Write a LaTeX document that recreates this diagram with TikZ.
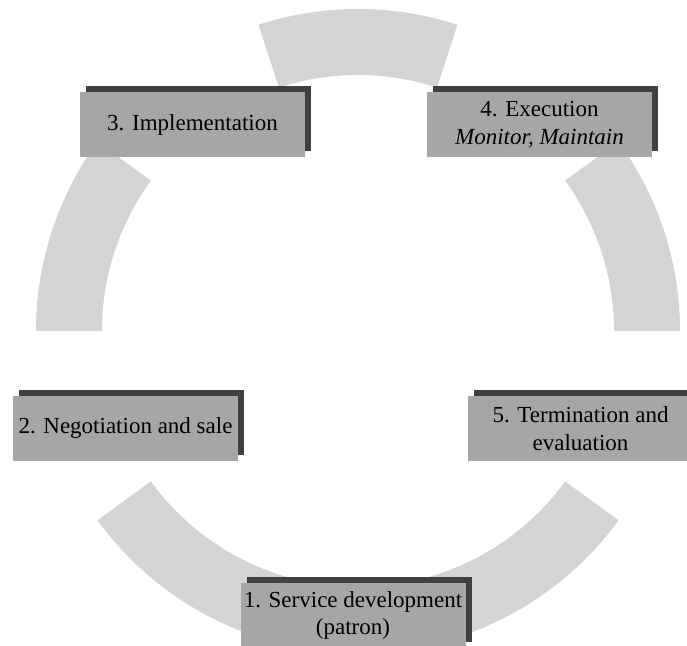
\documentclass[tikz,border=0pt]{standalone}
\usepackage{fontspec}
\setmainfont{Liberation Serif}
\usetikzlibrary{shadows,calc}
\definecolor{ringgray}{HTML}{D4D4D4}
\definecolor{boxgray}{HTML}{A6A6A6}
\definecolor{shadowgray}{HTML}{404040}

\begin{document}
\begin{tikzpicture}[x=1pt,y=1pt,
    ring/.style={fill=ringgray},
    stage/.style={fill=boxgray, minimum width=225pt, minimum height=65pt, inner sep=0pt,
        align=center, font=\fontsize{23}{27.5}\selectfont,
        drop shadow={shadow xshift=6pt, shadow yshift=6pt, fill=shadowgray, opacity=1}}]
    \clip (0,0) rectangle (687,645);
    \coordinate (c) at (358,314);

    % ring segments
    \foreach \a/\b in {0/36, 72/108, 144/180, 216/324}
        \fill[ring] ($(c)+(\a:322)$) arc[start angle=\a, end angle=\b, radius=322]
            -- ($(c)+(\b:256)$) arc[start angle=\b, end angle=\a, radius=256] -- cycle;

    % stages
    \node[stage] (s1) at (353,29.5) {1. Service development\\(patron)};
    \node[stage] (s2) at (125.5,216.5) {2. Negotiation and sale};
    \node[stage] (s3) at (192.5,520.5) {3. Implementation};
    \node[stage] (s4) at (539.5,520.5) {4. Execution\\\textit{Monitor, Maintain}};
    \node[stage] (s5) at (580.5,216.5) {5. Termination and\\evaluation};
\end{tikzpicture}
\end{document}
